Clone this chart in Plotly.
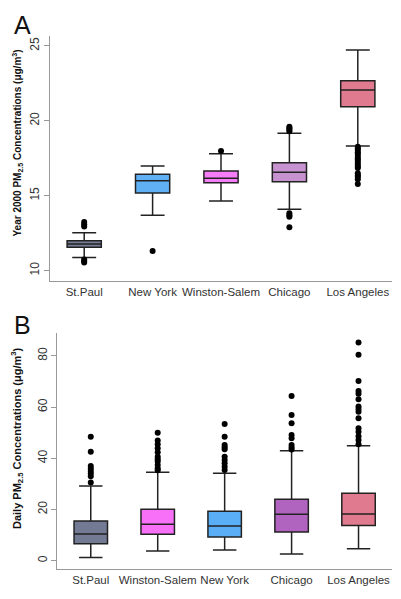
import plotly.graph_objects as go

# ---- Panel A: Year 2000 annual PM2.5 ----
cats_a = ["St.Paul", "New York", "Winston-Salem", "Chicago", "Los Angeles"]
colors_a = ["#767d96", "#5fb0f5", "#f77cf7", "#c692cf", "#df7a8f"]
lower_a = [10.87, 13.69, 14.65, 14.09, 18.31]
q1_a = [11.56, 15.18, 15.87, 15.93, 20.93]
med_a = [11.78, 16.0, 16.16, 16.56, 22.05]
q3_a = [12.0, 16.43, 16.65, 17.2, 22.67]
upper_a = [12.53, 16.98, 17.8, 19.16, 24.71]
out_a = {
    "St.Paul": [13.25, 13.1, 12.95, 10.75, 10.65, 10.55],
    "New York": [11.31],
    "Winston-Salem": [17.98],
    "Chicago": [19.6, 19.5, 19.4, 19.3, 13.83, 13.7, 13.6, 12.89],
    "Los Angeles": [18.27, 18.15, 18.05, 17.9, 17.8, 17.65, 17.5, 17.38, 17.25,
                    17.1, 16.95, 16.85, 16.49, 16.35, 16.27, 16.1, 15.78],
}

# ---- Panel B: Daily PM2.5 ----
cats_b = ["St.Paul", "Winston-Salem", "New York", "Chicago", "Los Angeles"]
colors_b = ["#737a93", "#f86ff8", "#5aaef6", "#b063bf", "#e07a8f"]
lower_b = [1.2, 3.8, 4.18, 2.6, 4.7]
q1_b = [6.6, 10.3, 9.26, 11.2, 13.7]
med_b = [10.4, 14.2, 13.55, 18.1, 18.2]
q3_b = [15.5, 20.1, 19.3, 24.0, 26.3]
upper_b = [29.2, 34.5, 34.1, 42.9, 44.9]
out_b = {
    "St.Paul": [48.4, 42.5, 37.0, 36.0, 35.0, 34.0, 33.0, 30.5],
    "Winston-Salem": [50.0, 46.9, 45.5, 43.9, 42.3, 40.6, 39.6, 38.7, 37.4, 36.1, 35.3],
    "New York": [53.4, 48.4, 45.2, 44.3, 43.5, 40.6, 39.3, 38.0, 36.7, 35.4],
    "Chicago": [64.3, 56.9, 53.7, 49.1, 47.8, 45.2, 44.2, 43.4],
    "Los Angeles": [85.2, 80.4, 70.2, 66.3, 65.2, 63.0, 60.2, 59.2, 58.2, 55.6,
                    51.7, 50.3, 48.6, 47.1, 45.5],
}

fig = go.Figure()

def add_panel(cats, colors, lo, q1, md, q3, hi, outs, xa, ya):
    for i, c in enumerate(cats):
        fig.add_trace(go.Box(
            x=[c], q1=[q1[i]], median=[md[i]], q3=[q3[i]],
            lowerfence=[lo[i]], upperfence=[hi[i]],
            fillcolor=colors[i], line=dict(color="#222222", width=1.5),
            width=0.5, whiskerwidth=0.7, boxpoints=False,
            xaxis=xa, yaxis=ya, showlegend=False, hoverinfo="skip"))
        ys = outs[c]
        fig.add_trace(go.Scatter(
            x=[c] * len(ys), y=ys, mode="markers",
            marker=dict(color="#000000", size=6),
            xaxis=xa, yaxis=ya, showlegend=False, hoverinfo="skip"))

add_panel(cats_a, colors_a, lower_a, q1_a, med_a, q3_a, upper_a, out_a, "x", "y")
add_panel(cats_b, colors_b, lower_b, q1_b, med_b, q3_b, upper_b, out_b, "x2", "y2")

# page has an 8px body margin; the figure occupies the rest of the window
OFF = 8
W, H = 401 - OFF, 599 - OFF

def px(x):
    return (x - OFF) / W

def py(y):
    return 1 - (y - OFF) / H

line_common = dict(showline=True, linecolor="#999999", linewidth=1,
                   showgrid=False, zeroline=False, automargin=False)
tfont_y = dict(family="Liberation Sans, Arial", size=12, color="#333333")
tfont_x = dict(family="Liberation Sans, Arial", size=11.5, color="#333333")

fig.update_layout(
    width=W, height=H,
    margin=dict(l=0, r=0, t=0, b=0),
    paper_bgcolor="white", plot_bgcolor="white",
    xaxis=dict(domain=[px(50), px(392)], anchor="y", type="category",
               categoryorder="array", categoryarray=cats_a,
               range=[-0.5, 4.5], ticks="", tickangle=0, tickfont=tfont_x,
               **line_common),
    yaxis=dict(domain=[py(281), py(36)], anchor="x", range=[9.31, 25.65],
               tickvals=[10, 15, 20, 25], tickangle=-90, ticks="outside",
               tickcolor="#999999", ticklen=5, tickfont=tfont_y, **line_common),
    xaxis2=dict(domain=[px(57.3), px(392)], anchor="y2", type="category",
                categoryorder="array", categoryarray=cats_b,
                range=[-0.5, 4.5], ticks="", tickangle=0, tickfont=tfont_x,
                **line_common),
    yaxis2=dict(domain=[py(569.3), py(333)], anchor="x2", range=[-3.36, 88.9],
                tickvals=[0, 20, 40, 60, 80], tickangle=-90, ticks="outside",
                tickcolor="#999999", ticklen=5, tickfont=tfont_y, **line_common),
    annotations=[
        dict(text="A", x=px(12), y=py(9), xref="paper", yref="paper",
             xanchor="left", yanchor="top", showarrow=False,
             font=dict(family="Liberation Sans, Arial", size=25, color="#111111")),
        dict(text="B", x=px(12), y=py(309), xref="paper", yref="paper",
             xanchor="left", yanchor="top", showarrow=False,
             font=dict(family="Liberation Sans, Arial", size=25, color="#111111")),
        dict(text="<b>Year 2000 PM<sub>2.5</sub> Concentrations (μg/m<sup>3</sup>)</b>",
             x=px(17), y=py(143.5), xref="paper", yref="paper",
             xanchor="center", yanchor="middle", textangle=-90, showarrow=False,
             font=dict(family="Liberation Sans, Arial", size=10, color="#111111")),
        dict(text="<b>Daily PM<sub>2.5</sub> Concentrations (μg/m<sup>3</sup>)</b>",
             x=px(17), y=py(438), xref="paper", yref="paper",
             xanchor="center", yanchor="middle", textangle=-90, showarrow=False,
             font=dict(family="Liberation Sans, Arial", size=11, color="#111111")),
    ],
)

fig.write_html("out.html")
